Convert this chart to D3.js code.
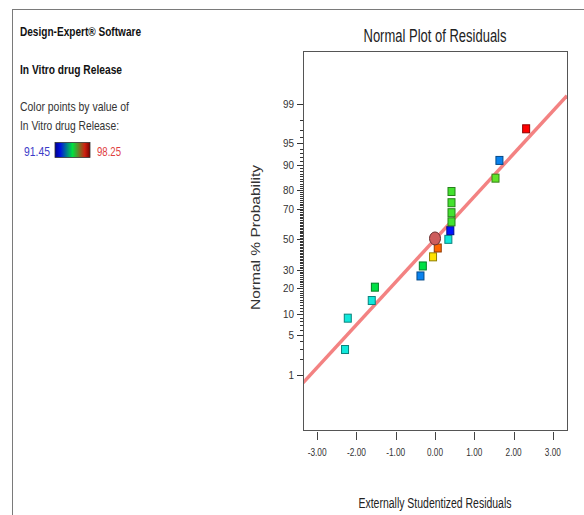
<!DOCTYPE html>
<html>
<head>
<meta charset="utf-8">
<script src="https://cdn.jsdelivr.net/npm/d3@7"></script>
<style>
  html, body { margin: 0; padding: 0; background: #fff; }
  svg { display: block; }
  text { font-family: "Liberation Sans", Arial, sans-serif; }
</style>
</head>
<body>
<svg id="chart" width="584" height="515"></svg>
<script>
// ---------------- data ----------------
const residuals = [-2.29, -2.22, -1.61, -1.53, -0.37, -0.31, -0.05, 0.07, 0.34, 0.39, 0.42, 0.42, 0.42, 0.42, 1.54, 1.64, 2.32];
const probabilities = [2.94, 8.82, 14.7, 20.6, 26.5, 32.4, 38.2, 44.1, 50.0, 55.9, 61.8, 67.6, 73.5, 79.4, 85.3, 91.2, 97.1];
const responseValues = [93.2, 93.2, 93.2, 94.8, 92.4, 94.8, 96.6, 97.5, 93.2, 91.6, 95.3, 95.3, 95.3, 95.3, 95.5, 92.4, 98.25];
const fitResid = [-3.36, 3.36];
const fitProb = [0.69, 99.31];
const highlightResid = [0.0];
const highlightProb = [50.6];
const xTicks = [-3, -2, -1, 0, 1, 2, 3];
const yMajorTicks = [1, 5, 10, 20, 30, 50, 70, 80, 90, 95, 99];
const yMinorTicks = d3.range(1, 100);
const colorRange = [91.45, 98.25];

// inverse normal CDF (Acklam)
function probit(p) {
  const a = [-3.969683028665376e+01, 2.209460984245205e+02, -2.759285104469687e+02, 1.383577518672690e+02, -3.066479806614716e+01, 2.506628277459239e+00];
  const b = [-5.447609879822406e+01, 1.615858368580409e+02, -1.556989798598866e+02, 6.680131188771972e+01, -1.328068155288572e+01];
  const c = [-7.784894002430293e-03, -3.223964580411365e-01, -2.400758277161838e+00, -2.549732539343734e+00, 4.374664141464968e+00, 2.938163982698783e+00];
  const d = [7.784695709041462e-03, 3.224671290700398e-01, 2.445134137142996e+00, 3.754408661907416e+00];
  const pl = 0.02425;
  let q, r;
  if (p < pl) { q = Math.sqrt(-2 * Math.log(p)); return (((((c[0]*q+c[1])*q+c[2])*q+c[3])*q+c[4])*q+c[5]) / ((((d[0]*q+d[1])*q+d[2])*q+d[3])*q+1); }
  if (p > 1 - pl) { q = Math.sqrt(-2 * Math.log(1 - p)); return -(((((c[0]*q+c[1])*q+c[2])*q+c[3])*q+c[4])*q+c[5]) / ((((d[0]*q+d[1])*q+d[2])*q+d[3])*q+1); }
  q = p - 0.5; r = q * q;
  return (((((a[0]*r+a[1])*r+a[2])*r+a[3])*r+a[4])*r+a[5])*q / (((((b[0]*r+b[1])*r+b[2])*r+b[3])*r+b[4])*r+1);
}

const svg = d3.select("#chart");

// text helper with fitted width (the original font is condensed)
function label(g, txt, x0, y0, size, width, opts = {}) {
  const t = g.append("text").attr("x", x0).attr("y", y0).attr("font-size", size)
    .attr("fill", opts.fill || "#222").text(txt);
  if (opts.bold) t.attr("font-weight", "bold");
  if (opts.anchor) t.attr("text-anchor", opts.anchor);
  if (opts.transform) t.attr("transform", opts.transform);
  if (width) t.attr("textLength", width).attr("lengthAdjust", "spacingAndGlyphs");
  return t;
}

// ---------------- layout ----------------
const box = { left: 303, right: 567, top: 51, bottom: 430 };

const x = d3.scaleLinear().domain([-3.36, 3.36]).range([box.left, box.right]);
const zScale = d3.scaleLinear().domain([-3.27, 3.23]).range([box.bottom, box.top]);
const y = p => zScale(probit(p / 100));

const color = d3.scaleSequential()
  .domain(colorRange)
  .interpolator(d3.piecewise(d3.interpolateRgb, ["#0000ff", "#10e8e0", "#00e040", "#ffe800", "#ff0000"]));

// outer frame
svg.append("line").attr("x1", 12).attr("x2", 584).attr("y1", 9.5).attr("y2", 9.5).attr("stroke", "#7a7a7a").attr("stroke-width", 1);
svg.append("line").attr("x1", 12.5).attr("x2", 12.5).attr("y1", 9).attr("y2", 515).attr("stroke", "#7a7a7a").attr("stroke-width", 1);

// left info panel
const info = svg.append("g");
label(info, "Design-Expert® Software", 20, 35.5, 13.5, 121, { bold: true, fill: "#111" });
label(info, "In Vitro drug Release", 20, 73.5, 13.5, 102, { bold: true, fill: "#111" });
label(info, "Color points by value of", 20, 110.5, 13.5, 109, { fill: "#333" });
label(info, "In Vitro drug Release:", 20, 129.5, 13.5, 99, { fill: "#333" });
label(info, d3.format(".2f")(colorRange[0]), 24, 155.5, 13.5, 26, { fill: "#3c3cc8" });
label(info, d3.format(".2f")(colorRange[1]), 97, 155.5, 13.5, 24, { fill: "#e04040" });

const defs = svg.append("defs");
const grad = defs.append("linearGradient").attr("id", "cbar").attr("x1", "0%").attr("x2", "100%");
[["0%", "#00008c"], ["15%", "#0010e0"], ["50%", "#00e040"], ["85%", "#d02010"], ["100%", "#7a0000"]]
  .forEach(([o, c]) => grad.append("stop").attr("offset", o).attr("stop-color", c));
svg.append("rect").attr("x", 55).attr("y", 142.5).attr("width", 35).attr("height", 15).attr("fill", "url(#cbar)").attr("stroke", "#333").attr("stroke-width", 0.8);

// title
label(svg, "Normal Plot of Residuals", (box.left + box.right) / 2, 41.5, 17.5, 143, { anchor: "middle", fill: "#222" });

// plot box
svg.append("rect").attr("x", box.left + 0.5).attr("y", box.top + 0.5)
  .attr("width", box.right - box.left).attr("height", box.bottom - box.top)
  .attr("fill", "none").attr("stroke", "#555").attr("stroke-width", 1);

// x axis ticks (below box)
const xAxisG = svg.append("g");
xAxisG.selectAll("line").data(xTicks).join("line")
  .attr("x1", d => Math.round(x(d)) + 0.5).attr("x2", d => Math.round(x(d)) + 0.5)
  .attr("y1", box.bottom + 2).attr("y2", box.bottom + 10)
  .attr("stroke", "#444");
xAxisG.selectAll("text").data(xTicks).join("text")
  .attr("x", d => x(d)).attr("y", box.bottom + 26)
  .attr("text-anchor", "middle").attr("font-size", 11).attr("fill", "#333")
  .attr("textLength", d => d < 0 ? 19 : 16).attr("lengthAdjust", "spacingAndGlyphs")
  .text(d => d3.format(".2f")(d).replace("−", "-"));

label(svg, "Externally Studentized Residuals", (box.left + box.right) / 2, 507.5, 14, 153, { anchor: "middle", fill: "#222" });

// y axis ticks
const yAxisG = svg.append("g");
yAxisG.selectAll("line.minor").data(yMinorTicks.filter(d => !yMajorTicks.includes(d))).join("line")
  .attr("class", "minor")
  .attr("x1", box.left - 3).attr("x2", box.left)
  .attr("y1", d => Math.round(y(d)) + 0.5).attr("y2", d => Math.round(y(d)) + 0.5)
  .attr("stroke", "#333").attr("stroke-width", 1);
yAxisG.selectAll("line.major").data(yMajorTicks).join("line")
  .attr("class", "major")
  .attr("x1", box.left - 6).attr("x2", box.left)
  .attr("y1", d => Math.round(y(d)) + 0.5).attr("y2", d => Math.round(y(d)) + 0.5)
  .attr("stroke", "#333").attr("stroke-width", 1);
yAxisG.selectAll("text").data(yMajorTicks).join("text")
  .attr("x", box.left - 9).attr("y", d => y(d) + 4)
  .attr("text-anchor", "end").attr("font-size", 11).attr("fill", "#333")
  .attr("textLength", d => d < 10 ? 5.5 : 11).attr("lengthAdjust", "spacingAndGlyphs")
  .text(d => d);

label(svg, "Normal % Probability", 0, 0, 13, 145, {
  anchor: "middle", fill: "#333",
  transform: `translate(260, ${(box.top + box.bottom) / 2 - 3}) rotate(-90)`
});

// clip for plot area
defs.append("clipPath").attr("id", "plotclip").append("rect")
  .attr("x", box.left + 1).attr("y", box.top + 1).attr("width", box.right - box.left - 1).attr("height", box.bottom - box.top - 1);

const plot = svg.append("g").attr("clip-path", "url(#plotclip)");

// fit line
const fitData = fitResid.map((r, i) => [r, fitProb[i]]);
plot.append("path")
  .datum(fitData)
  .attr("d", d3.line().x(d => x(d[0])).y(d => y(d[1])))
  .attr("stroke", "#f38282").attr("stroke-width", 3.5).attr("fill", "none");

// points
const pts = residuals.map((r, i) => ({ r, p: probabilities[i], v: responseValues[i] }));
const sw = 7, sh = 8;
plot.selectAll("rect.pt").data(pts).join("rect")
  .attr("class", "pt")
  .attr("x", d => x(d.r) - sw / 2).attr("y", d => y(d.p) - sh / 2)
  .attr("width", sw).attr("height", sh)
  .attr("fill", d => color(d.v))
  .attr("stroke", d => d3.color(color(d.v)).darker(1.6))
  .attr("stroke-width", 1);

// highlighted point
const hl = highlightResid.map((r, i) => ({ r, p: highlightProb[i] }));
plot.selectAll("ellipse").data(hl).join("ellipse")
  .attr("cx", d => x(d.r)).attr("cy", d => y(d.p))
  .attr("rx", 5.5).attr("ry", 6.5)
  .attr("fill", "#cd5c5c").attr("stroke", "#6b3030").attr("stroke-width", 1);
</script>
</body>
</html>
